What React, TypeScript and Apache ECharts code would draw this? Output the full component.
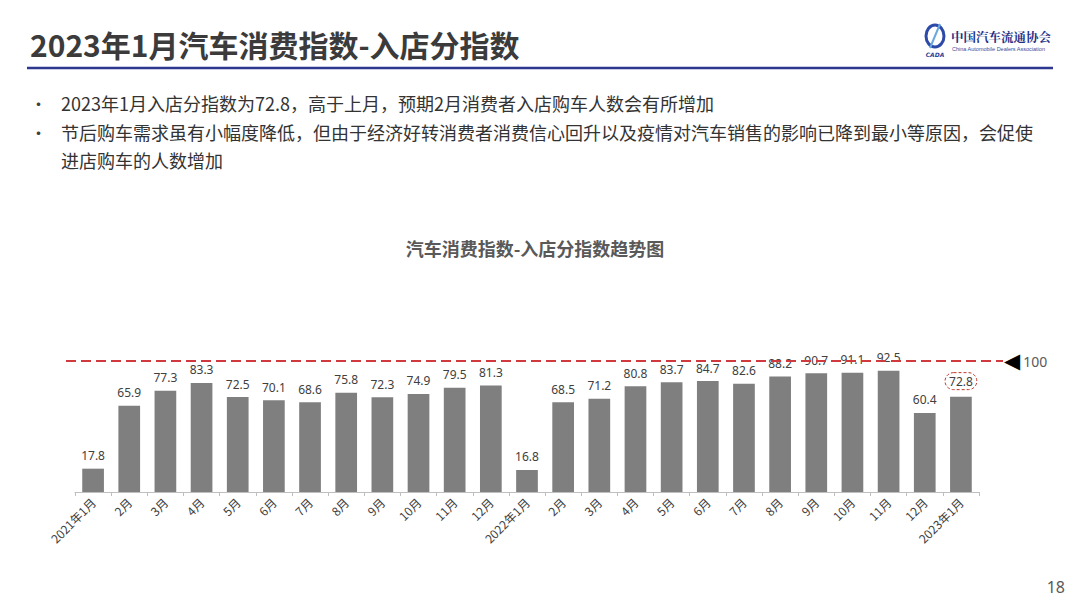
import React, { useEffect, useRef } from "react";
import * as echarts from "echarts";

const categories = [
  "2021年1月", "2月", "3月", "4月", "5月", "6月", "7月", "8月", "9月", "10月", "11月", "12月",
  "2022年1月", "2月", "3月", "4月", "5月", "6月", "7月", "8月", "9月", "10月", "11月", "12月",
  "2023年1月",
];
const values = [
  17.8, 65.9, 77.3, 83.3, 72.5, 70.1, 68.6, 75.8, 72.3, 74.9, 79.5, 81.3,
  16.8, 68.5, 71.2, 80.8, 83.7, 84.7, 82.6, 88.2, 90.7, 91.1, 92.5, 60.4,
  72.8,
];
const benchmark = 100;

const pageTitle = "2023年1月汽车消费指数-入店分指数";
const chartTitle = "汽车消费指数-入店分指数趋势图";
const bullets = [
  ["2023年1月入店分指数为72.8，高于上月，预期2月消费者入店购车人数会有所增加"],
  [
    "节后购车需求虽有小幅度降低，但由于经济好转消费者消费信心回升以及疫情对汽车销售的影响已降到最小等原因，会促使",
    "进店购车的人数增加",
  ],
];
const pageNumber = "18";

const CJK = '"Noto Sans CJK SC", "Noto Sans", sans-serif';

export default function App() {
  const ref = useRef<HTMLDivElement>(null);

  useEffect(() => {
    if (!ref.current) return;
    const chart = echarts.init(ref.current, null, { renderer: "svg" });
    const last = values.length - 1;
    const barData = values.map((v, i) =>
      i === last
        ? {
            value: v,
            label: {
              borderColor: "#c0392b",
              borderWidth: 1,
              borderType: [3, 2],
              borderRadius: 11,
              padding: [3, 4, 2, 4],
              color: "#404040",
            },
          }
        : v
    );

    const bulletGraphics: any[] = [];
    let lineY = 103;
    bullets.forEach((para) => {
      bulletGraphics.push({
        type: "text",
        x: 30,
        y: lineY,
        style: { text: "•", font: `17px ${CJK}`, fill: "#404040", textVerticalAlign: "middle" },
      });
      para.forEach((ln, j) => {
        bulletGraphics.push({
          type: "text",
          x: 61,
          y: lineY + j * 28,
          style: { text: ln, font: `18px ${CJK}`, fill: "#333333", textVerticalAlign: "middle" },
        });
      });
      lineY += para.length * 28 + 1;
    });

    chart.setOption({
      animation: false,
      grid: { left: 75, right: 101, top: 361, bottom: 116 },
      xAxis: {
        type: "category",
        data: categories,
        axisLine: { lineStyle: { color: "#bfbfbf", width: 1 } },
        axisTick: { show: true, length: 4, lineStyle: { color: "#bfbfbf" } },
        axisLabel: {
          rotate: 45,
          interval: 0,
          fontSize: 12,
          color: "#404040",
          fontFamily: CJK,
          margin: 8,
        },
      },
      yAxis: { type: "value", min: 0, max: 100, show: false },
      series: [
        {
          type: "bar",
          data: barData,
          barCategoryGap: "40%",
          clip: false,
          itemStyle: { color: "#7f7f7f" },
          label: {
            show: true,
            position: "top",
            distance: 7,
            fontSize: 12,
            color: "#404040",
            fontFamily: '"Noto Sans", sans-serif',
          },
          emphasis: { disabled: true },
          markLine: {
            silent: true,
            symbol: ["none", "none"],
            lineStyle: { color: "#d0393e", width: 2, type: [10, 5] },
            label: {
              show: true,
              position: "end",
              distance: 1,
              formatter: "{t|◀}100",
              color: "#595959",
              fontSize: 14,
              fontFamily: '"Noto Sans", sans-serif',
              rich: {
                t: {
                  fontSize: 21,
                  color: "#000000",
                  fontFamily: '"DejaVu Sans", sans-serif',
                  padding: [0, 3, 0, 0],
                },
              },
            },
            data: [[{ x: 66, yAxis: benchmark }, { x: 1003, yAxis: benchmark }]],
          },
        },
      ],
      graphic: [
        {
          type: "text",
          x: 30,
          y: 44,
          style: {
            text: pageTitle,
            font: `bold 30px ${CJK}`,
            fill: "#3b3b3b",
            textVerticalAlign: "middle",
          },
        },
        {
          type: "line",
          shape: { x1: 27, y1: 68, x2: 1053, y2: 68 },
          style: { stroke: "#2e3790", lineWidth: 2.5 },
        },
        // logo
        {
          type: "ellipse",
          shape: { cx: 935, cy: 36, rx: 9, ry: 11 },
          style: { fill: "none", stroke: "#2d4aa8", lineWidth: 3 },
        },
        {
          type: "line",
          shape: { x1: 940, y1: 24, x2: 930, y2: 48 },
          style: { stroke: "#6aa8e0", lineWidth: 2 },
        },
        {
          type: "text",
          x: 935,
          y: 54,
          style: {
            text: "CADA",
            font: `italic bold 6px "DejaVu Sans", sans-serif`,
            fill: "#2d3f96",
            textAlign: "center",
            textVerticalAlign: "middle",
          },
        },
        {
          type: "text",
          x: 951,
          y: 37,
          style: {
            text: "中国汽车流通协会",
            font: `bold 12.5px "Noto Serif CJK SC", ${CJK}`,
            fill: "#232f85",
            textVerticalAlign: "middle",
          },
        },
        {
          type: "text",
          x: 952,
          y: 49,
          style: {
            text: "China Automobile Dealers Association",
            font: `5.5px "Liberation Sans", sans-serif`,
            fill: "#3a4a9a",
            textVerticalAlign: "middle",
          },
        },
        ...bulletGraphics,
        {
          type: "text",
          x: 535,
          y: 248,
          style: {
            text: chartTitle,
            font: `bold 18px ${CJK}`,
            fill: "#595959",
            textAlign: "center",
            textVerticalAlign: "middle",
            shadowColor: "rgba(0,0,0,0.45)",
            shadowBlur: 4,
            shadowOffsetX: 1,
            shadowOffsetY: 2,
          },
        },
        {
          type: "text",
          x: 1065,
          y: 587,
          style: {
            text: pageNumber,
            font: `16px "Noto Sans", sans-serif`,
            fill: "#595959",
            textAlign: "right",
            textVerticalAlign: "middle",
          },
        },
      ],
    });
    return () => chart.dispose();
  }, []);

  return (
    <div
      ref={ref}
      style={{ position: "fixed", left: 0, top: 0, width: 1080, height: 608, background: "#ffffff" }}
    />
  );
}
